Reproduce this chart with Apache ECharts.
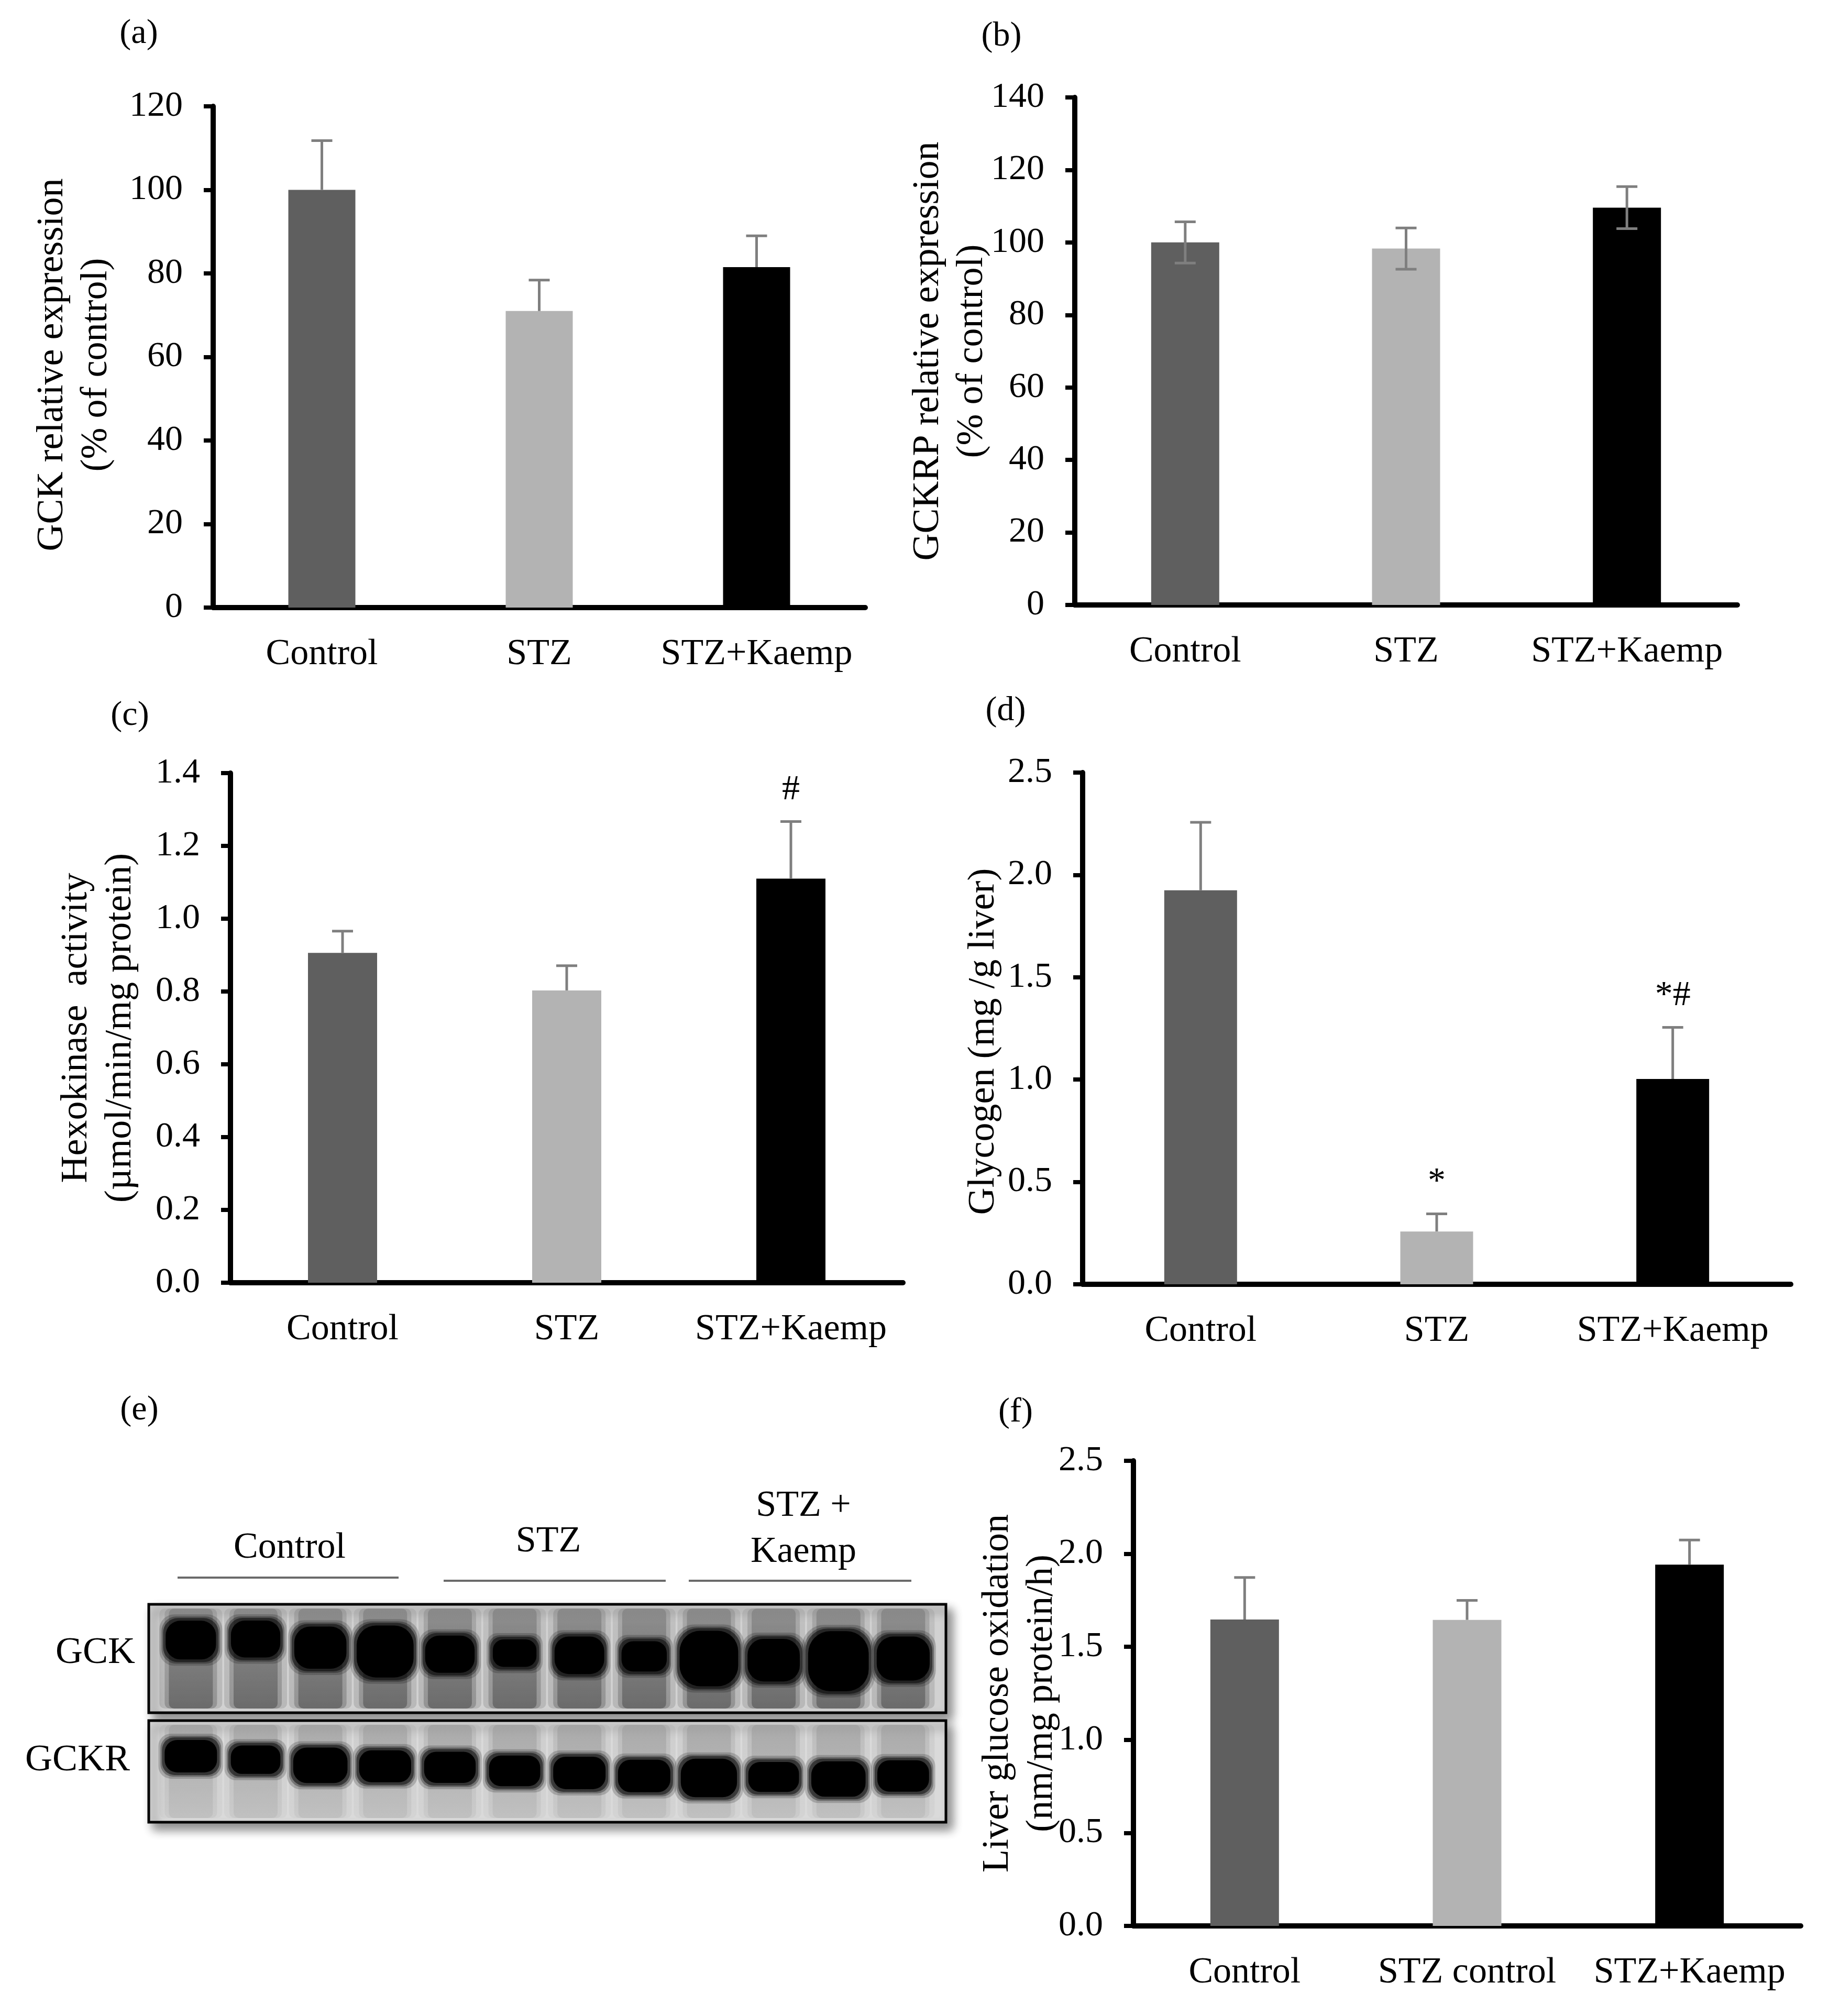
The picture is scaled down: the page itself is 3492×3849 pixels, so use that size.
<!DOCTYPE html>
<html>
	<head>
		<meta charset="utf-8" />
		<title>GCK, GCKRP, hexokinase, glycogen, glucose oxidation</title>
		<style type="text/css">
			html, body { margin: 0; padding: 0; background: #fff; }
		</style>
	</head>
	<body>
		<div id="chart" style="width:3492px;height:3849px;"></div>
	</body>
</html>
<script src="https://cdn.jsdelivr.net/npm/echarts@6/dist/echarts.min.js"></script>
<script>
	// groups on the x axes
	var groups = ['Control', 'STZ', 'STZ+Kaemp'];
	var groupsF = ['Control', 'STZ control', 'STZ+Kaemp'];

	// (a) GCK relative expression, % of control
	var gckMean = [100, 71, 81.5];
	var gckErr = [11.8, 7.4, 7.5];
	// (b) GCKRP relative expression, % of control
	var gckrpMean = [100, 98.3, 109.6];
	var gckrpErr = [5.7, 5.7, 5.8];
	// (c) hexokinase activity
	var hkMean = [0.906, 0.803, 1.110];
	var hkErr = [0.060, 0.068, 0.157];
	var hkMark = ['', '', '#'];
	// (d) glycogen
	var glyMean = [1.925, 0.258, 1.003];
	var glyErr = [0.332, 0.086, 0.252];
	var glyMark = ['', '*', '*#'];
	// (f) liver glucose oxidation
	var oxMean = [1.647, 1.645, 1.942];
	var oxErr = [0.226, 0.105, 0.132];

	// (e) western blot: lane, band migration (0 = top of strip, 100 = bottom), band density (lane 1 = 1)
	var lanes = [1, 2, 3, 4, 5, 6, 7, 8, 9, 10, 11, 12];
	var gckMig = [33, 32, 40, 43.5, 46, 45, 47, 48, 50, 51.5, 52.5, 50];
	var gckDen = [1.0, 0.94, 1.12, 1.48, 0.95, 0.64, 0.96, 0.72, 1.62, 1.13, 1.80, 1.18];
	var gckrMig = [35, 38.5, 44, 45, 46, 49.5, 51.5, 54.5, 56.5, 55.5, 57.5, 54.5];
	var gckrDen = [1.0, 0.84, 1.12, 0.98, 0.95, 0.93, 1.0, 1.0, 1.25, 0.90, 1.12, 0.96];

	var serif = '"Liberation Serif", "Times New Roman", serif';
	var barColors = ['#5f5f5f', '#b3b3b3', '#000000'];
	var myChart = echarts.init(document.getElementById('chart'));

	function catAxis(gi, cats) {
		return {
			type: 'category', gridIndex: gi, data: cats,
			axisLine: {lineStyle: {color: '#000', width: 10}},
			axisTick: {show: false},
			axisLabel: {interval: 0, margin: 55, fontSize: 70, color: '#000', fontFamily: serif}
		};
	}

	function valAxis(gi, max, step, name, gap, dec, shift) {
		return {
			type: 'value', gridIndex: gi, min: 0, max: max, interval: step,
			name: name, nameLocation: 'middle', nameRotate: 90, nameGap: gap,
			nameMoveOverlap: false,
			nameTextStyle: {fontSize: 72, lineHeight: 84, color: '#000', fontFamily: serif,
				padding: shift ? [0, shift * 2, 0, 0] : 0},
			splitLine: {show: false},
			axisLine: {show: true, lineStyle: {color: '#000', width: 10}},
			axisTick: {show: true, length: 18, lineStyle: {color: '#000', width: 8}},
			axisLabel: {margin: 58, fontSize: 68, color: '#000', fontFamily: serif,
				formatter: function (v) { return dec ? v.toFixed(dec) : String(Math.round(v)); }}
		};
	}

	function barSeries(gi, vals, bw) {
		return {
			type: 'bar', xAxisIndex: gi, yAxisIndex: gi, barWidth: bw,
			data: vals.map(function (v, i) {
				return {value: v, itemStyle: {color: barColors[i]}};
			})
		};
	}

	// error bars (one sided or both sides) and the significance marks
	function errSeries(gi, vals, errs, both, marks) {
		return {
			type: 'custom', xAxisIndex: gi, yAxisIndex: gi, z: 5,
			data: vals.map(function (v, i) { return [i, v, errs[i]]; }),
			renderItem: function (params, api) {
				var i = api.value(0), m = api.value(1), e = api.value(2);
				var top = api.coord([i, m + e]);
				var bot = api.coord([i, both ? m - e : m]);
				var cap = 20;
				var st = {stroke: '#7f7f7f', lineWidth: 5, fill: null};
				var ch = [
					{type: 'line', shape: {x1: top[0], y1: top[1], x2: bot[0], y2: bot[1]}, style: st},
					{type: 'line', shape: {x1: top[0] - cap, y1: top[1], x2: top[0] + cap, y2: top[1]}, style: st}
				];
				if (both) {
					ch.push({type: 'line', shape: {x1: bot[0] - cap, y1: bot[1], x2: bot[0] + cap, y2: bot[1]}, style: st});
				}
				var mk = marks ? marks[params.dataIndex] : '';
				if (mk) {
					ch.push({type: 'text', x: top[0], y: top[1] - 60,
						style: {text: mk, fontSize: 68, fontFamily: serif, fill: '#000', align: 'center', verticalAlign: 'middle'}});
				}
				return {type: 'group', children: ch};
			}
		};
	}

	// one blot strip: lane smear + band drawn as a few soft layers, band size grows with density
	function blotSeries(gi, mig, den, bw, bh, smearTop, smearBot) {
		return {
			type: 'custom', xAxisIndex: gi, yAxisIndex: gi,
			data: lanes.map(function (l, i) { return [l, mig[i], den[i]]; }),
			renderItem: function (params, api) {
				var c = api.coord([api.value(0), api.value(1)]);
				var d = api.value(2);
				var cs = params.coordSys;
				var w = bw * Math.pow(d, 0.3), h = bh * Math.pow(d, 0.7);
				var ch = [];
				// lane smear, wide and faint then narrow and stronger
				[[120, 0.35], [100, 0.6], [84, 1]].forEach(function (s) {
					ch.push({type: 'rect',
						shape: {x: c[0] - s[0] / 2, y: cs.y + 8, width: s[0], height: cs.height - 16, r: 10},
						style: {opacity: s[1] * 0.55, fill: new echarts.graphic.LinearGradient(0, 0, 0, 1, [
							{offset: 0, color: smearTop}, {offset: 1, color: smearBot}])}});
				});
				// band
				[[18, 0.18], [10, 0.3], [4, 0.5], [-6, 1]].forEach(function (s) {
					ch.push({type: 'rect',
						shape: {x: c[0] - (w + s[0]) / 2, y: c[1] - (h + s[0]) / 2, width: w + s[0], height: h + s[0],
							r: Math.min(w, h) * 0.35},
						style: {fill: 'rgba(0,0,0,' + s[1] + ')'}});
				});
				return {type: 'group', children: ch};
			}
		};
	}

	function blotGrid(top, h, bg) {
		return {left: 284, top: top, width: 1522, height: h, show: true,
			backgroundColor: bg, borderColor: '#000', borderWidth: 5,
			shadowBlur: 18, shadowColor: 'rgba(0,0,0,0.45)', shadowOffsetX: 10, shadowOffsetY: 12};
	}

	function blotX(gi) { return {type: 'value', gridIndex: gi, min: 0.35, max: 12.66, show: false}; }
	function blotY(gi) { return {type: 'value', gridIndex: gi, min: 0, max: 100, inverse: true, show: false}; }

	function label(txt, x, y, size, align) {
		return {type: 'text', x: x, y: y,
			style: {text: txt, fontSize: size || 66, fontFamily: serif, fill: '#000',
				align: align || 'center', verticalAlign: 'middle'}};
	}
	function rule(x1, x2, y) {
		return {type: 'line', shape: {x1: x1, y1: y, x2: x2, y2: y}, style: {stroke: '#6a6a6a', lineWidth: 4}};
	}

	var option = {
		backgroundColor: '#fff',
		animation: false,
		grid: [
			{left: 407, top: 203, width: 1245, height: 957},
			{left: 2052, top: 186, width: 1265, height: 969},
			{left: 440, top: 1476, width: 1284, height: 973},
			{left: 2067, top: 1475, width: 1352, height: 977},
			{left: 2164, top: 2789, width: 1274, height: 888},
			blotGrid(3063, 207, '#d2d2d2'),
			blotGrid(3285, 194, '#dadada')
		],
		xAxis: [
			catAxis(0, groups), catAxis(1, groups), catAxis(2, groups), catAxis(3, groups), catAxis(4, groupsF),
			blotX(5), blotX(6)
		],
		yAxis: [
			valAxis(0, 120, 20, 'GCK relative expression\n(% of control)', 181, 0, 15),
			valAxis(1, 140, 20, 'GCKRP relative expression\n(% of control)', 154, 0, 0),
			valAxis(2, 1.4, 0.2, 'Hexokinase  activity\n(\u00b5mol/min/mg protein)', 168, 1, 0),
			valAxis(3, 2.5, 0.5, 'Glycogen (mg /g liver)', 147, 1, 25),
			valAxis(4, 2.5, 0.5, 'Liver glucose oxidation\n(nm/mg protein/h)', 133, 1, 0),
			blotY(5), blotY(6)
		],
		series: [
			barSeries(0, gckMean, 128), errSeries(0, gckMean, gckErr, false, null),
			barSeries(1, gckrpMean, 130), errSeries(1, gckrpMean, gckrpErr, true, null),
			barSeries(2, hkMean, 132), errSeries(2, hkMean, hkErr, false, hkMark),
			barSeries(3, glyMean, 139), errSeries(3, glyMean, glyErr, false, glyMark),
			barSeries(4, oxMean, 131), errSeries(4, oxMean, oxErr, false, null),
			blotSeries(5, gckMig, gckDen, 102, 80, '#7a7a7a', '#4a4a4a'),
			blotSeries(6, gckrMig, gckrDen, 106, 68, '#9a9a9a', '#b8b8b8')
		],
		graphic: [
			label('(a)', 265, 65), label('(b)', 1912, 70),
			label('(c)', 248, 1367), label('(d)', 1920, 1358),
			label('(e)', 266, 2693), label('(f)', 1939, 2697),
			label('Control', 553, 2956, 70), label('STZ', 1047, 2944, 70),
			label('STZ +', 1534, 2876, 70), label('Kaemp', 1534, 2964, 70),
			rule(339, 761, 3012), rule(847, 1271, 3018), rule(1315, 1740, 3018),
			label('GCK', 258, 3156, 72, 'right'), label('GCKR', 248, 3361, 72, 'right')
		]
	};

	myChart.setOption(option);
</script>
